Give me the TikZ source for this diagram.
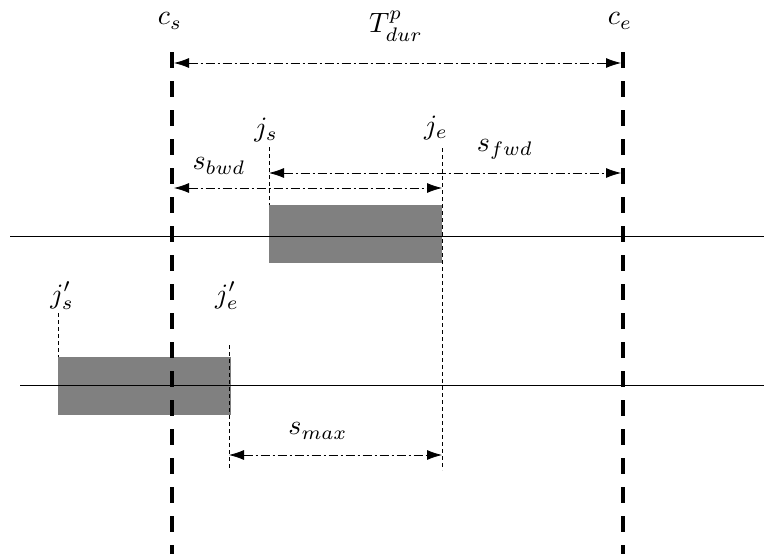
\documentclass[tikz,border=0pt]{standalone}
\usepackage{graphicx}
\usetikzlibrary{arrows.meta}
\newcommand{\biglbl}[1]{\scalebox{2.8}{$#1$}}
\begin{document}
\begin{tikzpicture}[x=1pt,y=-1pt,
  lbl/.style={inner sep=0pt},
  bound/.style={line width=3.2pt, dash pattern=on 16pt off 13pt},
  guide/.style={line width=0.7pt, dash pattern=on 4pt off 3pt},
  span/.style={line width=0.8pt, dash pattern=on 9pt off 3pt on 2pt off 3pt, {Latex[length=15pt,width=10pt]}-{Latex[length=15pt,width=10pt]}},
  job/.style={fill=black!50, draw=none},
  track/.style={line width=0.8pt}]
\useasboundingbox (0,0) rectangle (764,554);
% labels
\node[lbl] (cs) at (170,21) {\biglbl{c_s}};
\node[lbl] (ce) at (620,21) {\biglbl{c_e}};
\node[lbl] (tdur) at (396,26) {\biglbl{T^{p}_{dur}}};
\node[lbl] (js) at (266,130) {\biglbl{j_s}};
\node[lbl] (je) at (436,128) {\biglbl{j_e}};
\node[lbl] (sfwd) at (505,149) {\biglbl{s_{fwd}}};
\node[lbl] (sbwd) at (219,166) {\biglbl{s_{bwd}}};
\node[lbl] (jps) at (62,296) {\biglbl{j'_s}};
\node[lbl] (jpe) at (227,296) {\biglbl{j'_e}};
\node[lbl] (smax) at (318,431) {\biglbl{s_{max}}};
% tracks
\coordinate (t1a) at (10,236); \coordinate (t1b) at (764,236);
\coordinate (t2a) at (20,385); \coordinate (t2b) at (764,385);
% boxes
\node[job, minimum width=173pt, minimum height=58pt, inner sep=0pt, anchor=north west] (box1) at (269,205) {};
\node[job, minimum width=173pt, minimum height=58pt, inner sep=0pt, anchor=north west] (box2) at (58,357) {};
\draw[track] (t1a) -- (t1b);
\draw[track] (t2a) -- (t2b);
% boundary lines
\coordinate (csT) at (172,52); \coordinate (csB) at (172,554);
\coordinate (ceT) at (623,52); \coordinate (ceB) at (623,554);
\draw[bound] (csT) -- (csB);
\draw[bound] (ceT) -- (ceB);
% guides
\coordinate (jsT) at (269,147); \coordinate (jsB) at (269,205);
\coordinate (jeT) at (442,148); \coordinate (jeB) at (442,470);
\coordinate (jpsT) at (58,313); \coordinate (jpsB) at (58,357);
\coordinate (jpeT) at (229,345); \coordinate (jpeB) at (229,470);
\draw[guide] (jsT) -- (jsB);
\draw[guide] (jeT) -- (jeB);
\draw[guide] (jpsT) -- (jpsB);
\draw[guide] (jpeT) -- (jpeB);
% spans
\coordinate (tA) at (174,63); \coordinate (tB) at (621,63);
\coordinate (fA) at (269,173); \coordinate (fB) at (621,173);
\coordinate (bA) at (174,188); \coordinate (bB) at (442,188);
\coordinate (mA) at (229,455); \coordinate (mB) at (442,455);
\draw[span] (tA) -- (tB);
\draw[span] (fA) -- (fB);
\draw[span] (bA) -- (bB);
\draw[span] (mA) -- (mB);
\end{tikzpicture}
\end{document}
